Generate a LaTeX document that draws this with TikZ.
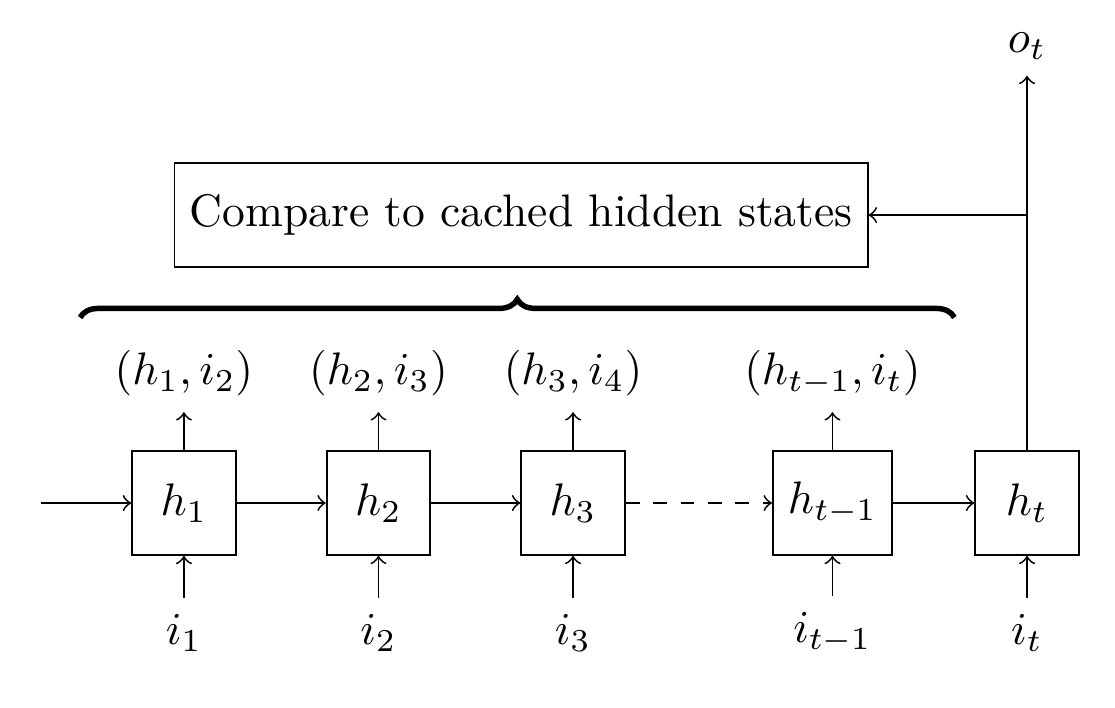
\documentclass[tikz,border=0pt]{standalone}
\usepackage{amsmath}
\usepackage{tikz}
\usetikzlibrary{decorations.pathreplacing}

\begin{document}
\begin{tikzpicture}[cell/.style={draw, minimum size=0.8cm}]
\useasboundingbox (-1.418,-1.573) rectangle (7.178,3.878);
\coordinate (in) at (-1.1,0);
\node[cell] (h1) at (0,0) {$h_1$};
\node[cell] (h2) at (1.5,0) {$h_2$};
\node[cell] (h3) at (3,0) {$h_3$};
\node[cell] (hm) at (5,0) {$h_{t-1}$};
\node[cell] (ht) at (6.5,0) {$h_t$};
\node (i1) at (0,-1) {$i_1$};
\node (i2) at (1.5,-1) {$i_2$};
\node (i3) at (3,-1) {$i_3$};
\node (im) at (5,-1) {$i_{t-1}$};
\node (it) at (6.5,-1) {$i_t$};
\node (p1) at (0,1) {$(h_1,i_2)$};
\node (p2) at (1.5,1) {$(h_2,i_3)$};
\node (p3) at (3,1) {$(h_3,i_4)$};
\node (pm) at (5,1) {$(h_{t-1},i_t)$};
\node (ot) at (6.5,3.52) {$o_t$};
\node[draw, minimum height=0.8cm] (cmp) at (2.6,2.22) {Compare to cached hidden states};
\coordinate (br) at (6.5,2.22);
\coordinate (bl) at (-0.8,1.43);
\coordinate (bend) at (5.94,1.43);
 \draw[->] (in) -- (h1);
 \draw[->] (h1) -- (h2);
 \draw[->] (h2) -- (h3);
 \draw[->, dashed] (h3) -- (hm);
 \draw[->] (hm) -- (ht);
 \draw[->] (i1) -- (h1);
 \draw[->] (i2) -- (h2);
 \draw[->] (i3) -- (h3);
 \draw[->] (im) -- (hm);
 \draw[->] (it) -- (ht);
 \draw[->] (h1) -- (p1);
 \draw[->] (h2) -- (p2);
 \draw[->] (h3) -- (p3);
 \draw[->] (hm) -- (pm);
 \draw[->] (ht) -- (ot);
 \draw[->] (br) -- (cmp);
 \draw[very thick, decorate, decoration={brace, amplitude=4pt}] (bl) -- (bend);
\end{tikzpicture}
\end{document}
